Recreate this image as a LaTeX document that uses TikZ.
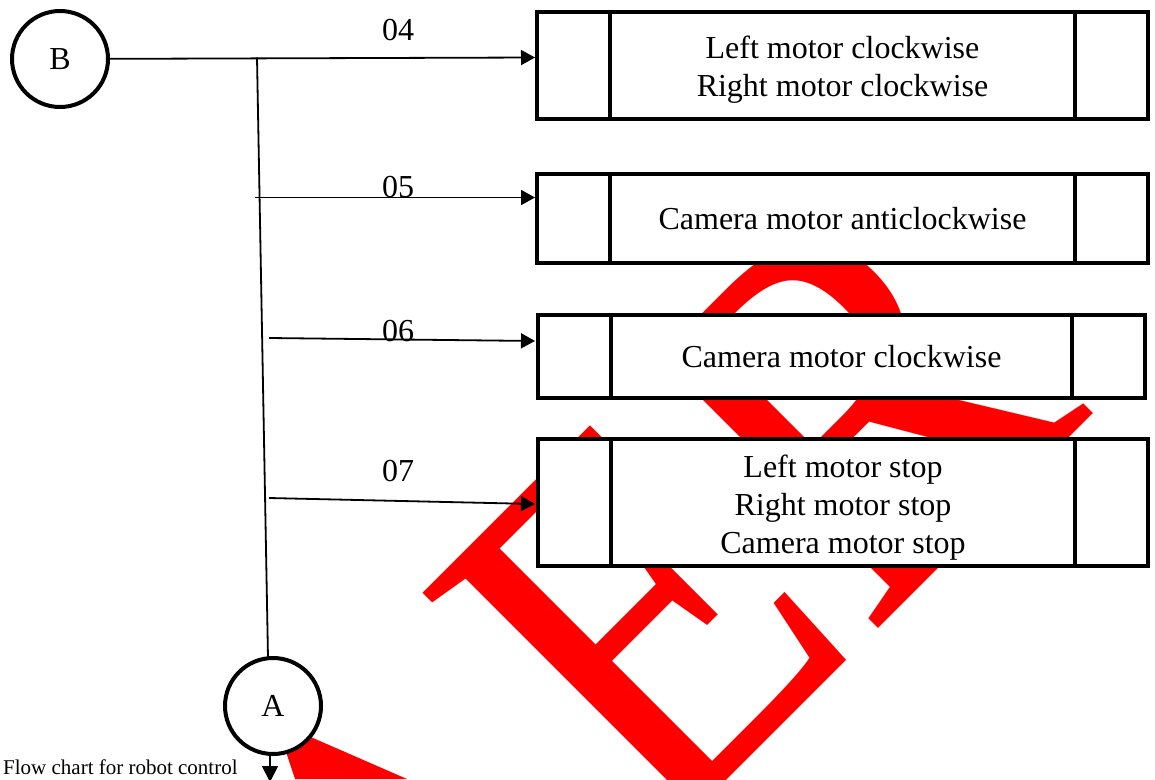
\documentclass[tikz,border=0pt]{standalone}
\usepackage{fontspec}
\setmainfont{Liberation Serif}
\newfontfamily\wmfont[FakeStretch=0.91]{Liberation Serif}
\usetikzlibrary{arrows.meta}
\definecolor{wmred}{RGB}{255,0,0}
\begin{document}
\begin{tikzpicture}[x=1pt,y=-1pt,
  conn/.style={line width=1.8pt},
  arr/.style={conn,-{Triangle[length=14pt,width=15pt]}},
  procbox/.style={draw,line width=4pt,fill=white,inner sep=0pt,outer sep=0pt,align=center,font=\fontsize{32}{38}\selectfont},
  conncircle/.style={draw,circle,line width=4pt,fill=white,minimum size=96pt,inner sep=0pt,outer sep=0pt,font=\fontsize{32}{38}\selectfont},
  lbl/.style={inner sep=0pt,font=\fontsize{32}{38}\selectfont},
  divider/.style={line width=4pt}
]
\useasboundingbox (0,0) rectangle (1155,779);
% watermark
\fill[wmred] (278,728) -- (290,728) -- (407,779) -- (295,779) -- cycle;
\node[text=wmred, rotate=45, anchor=base west, inner sep=0pt, font=\wmfont\fontsize{530}{530}\selectfont] (wm) at (658,849) {ER};

% boxes
\node[procbox,minimum width=611pt,minimum height=107pt] (b1) at (842.5,65.5) {\rule{0pt}{30pt}Left motor clockwise\\Right motor clockwise};
\node[procbox,minimum width=611pt,minimum height=89pt] (b2) at (842.5,218.5) {Camera motor anticlockwise};
\node[procbox,minimum width=607pt,minimum height=83pt] (b3) at (841.5,356.5) {Camera motor clockwise};
\node[procbox,minimum width=610pt,minimum height=127pt] (b4) at (843,502.5) {\rule{0pt}{32pt}Left motor stop\\Right motor stop\\Camera motor stop};
\foreach \b in {b1,b2,b3,b4}{
  \draw[divider] ([xshift=73pt]\b.north west) -- ([xshift=73pt]\b.south west);
  \draw[divider] ([xshift=-73pt]\b.north east) -- ([xshift=-73pt]\b.south east);
}

% connectors
\node[conncircle] (B) at (60,59) {B};
\node[conncircle] (A) at (273,706) {A};

\coordinate (j4) at (257,57.5);
\coordinate (t4) at (535,57.5);
\coordinate (s5) at (255,197.5);
\coordinate (t5) at (535,197.5);
\coordinate (s6) at (269,338);
\coordinate (t6) at (535,341);
\coordinate (s7) at (269,498);
\coordinate (t7) at (535,504);

\draw[arr] (B) -- (t4);
\draw[conn] (j4) -- ([xshift=-5pt]A.north);
\draw[arr] (s5) -- (t5);
\draw[arr] (s6) -- (t6);
\draw[arr] (s7) -- (t7);
\draw[conn,-{Triangle[length=16pt,width=16pt]}] ([xshift=-3pt]A.south) -- ++(0,28);

% labels
\node[lbl] (l4) at (398,30) {04};
\node[lbl] (l5) at (398,187) {05};
\node[lbl] (l6) at (398,331) {06};
\node[lbl] (l7) at (398,471) {07};

\node[anchor=base west, inner sep=0pt, font=\fontsize{21}{25}\selectfont] (cap) at (3,774) {Flow chart for robot control};
\end{tikzpicture}
\end{document}
